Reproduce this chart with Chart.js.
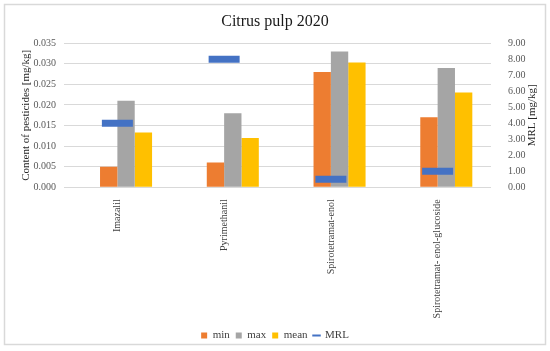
<!DOCTYPE html>
<html>
<head>
<meta charset="utf-8">
<script src="https://cdn.jsdelivr.net/npm/chart.js@4.4.1/dist/chart.umd.min.js"></script>
<style>
  body { margin: 0; background: #fff; }
  #wrap { width: 550px; height: 351px; }
</style>
</head>
<body>
<div id="wrap"><canvas id="chart" width="550" height="351"></canvas></div>
<script>
// data
const categories = ['Imazalil', 'Pyrimethanil', 'Spirotetramat-enol', 'Spirotetramat- enol-glucoside'];
const minValues  = [0.005, 0.006, 0.028, 0.017];
const maxValues  = [0.021, 0.018, 0.033, 0.029];
const meanValues = [0.0133, 0.012, 0.0303, 0.023];
const mrlValues  = [4.0, 8.0, 0.5, 1.0];
const emptySlot  = [null, null, null, null]; // excel leaves the first bar slot empty

const serif = "'Liberation Serif', 'DejaVu Serif', serif";

// frame around the whole chart + right axis title (reads bottom to top like the left one)
const framePlugin = {
  id: 'frame',
  beforeDraw(chart) {
    const ctx = chart.ctx;
    ctx.save();
    ctx.fillStyle = '#fff';
    ctx.fillRect(0, 0, chart.width, chart.height);
    ctx.strokeStyle = '#d9d9d9';
    ctx.lineWidth = 1.5;
    ctx.strokeRect(4.5, 4.5, 541, 340);
    ctx.restore();
  },
  afterDraw(chart) {
    const ctx = chart.ctx;
    const area = chart.chartArea;
    ctx.save();
    ctx.translate(532, (area.top + area.bottom) / 2);
    ctx.rotate(-Math.PI / 2);
    ctx.fillStyle = '#262626';
    ctx.font = '11px ' + serif;
    ctx.textAlign = 'center';
    ctx.textBaseline = 'middle';
    ctx.fillText('MRL [mg/kg]', 0, 0);
    ctx.restore();
  }
};

const ctx = document.getElementById('chart').getContext('2d');
const chart = new Chart(ctx, {
  type: 'bar',
  data: {
    labels: categories,
    datasets: [
      { label: '', data: emptySlot, backgroundColor: 'rgba(0,0,0,0)', order: 1 },
      { label: 'min', data: minValues, backgroundColor: '#ED7D31', pointStyle: 'rect', order: 1 },
      { label: 'max', data: maxValues, backgroundColor: '#A5A5A5', pointStyle: 'rect', order: 1 },
      { label: 'mean', data: meanValues, backgroundColor: '#FFC000', pointStyle: 'rect', order: 1 },
      {
        type: 'line', label: 'MRL', data: mrlValues, yAxisID: 'y1',
        showLine: false, pointStyle: 'line',
        pointRadius: 15.5, pointHoverRadius: 15.5,
        pointBorderWidth: 7, pointHoverBorderWidth: 7,
        borderColor: '#4472C4', backgroundColor: '#4472C4', order: 0
      }
    ]
  },
  options: {
    responsive: false,
    animation: false,
    events: [],
    layout: { padding: 0 },
    datasets: { bar: { categoryPercentage: 0.65, barPercentage: 1.0 } },
    plugins: {
      tooltip: { enabled: false },
      title: {
        display: true, text: 'Citrus pulp 2020', color: '#1a1a1a',
        font: { family: serif, size: 16, weight: 'normal' },
        padding: { top: 12, bottom: 12 }
      },
      legend: {
        position: 'bottom',
        labels: {
          usePointStyle: true, boxWidth: 6, boxHeight: 6,
          color: '#404040', padding: 6,
          font: { family: serif, size: 11 },
          filter: (item) => item.text !== '',
          sort: (a, b) => a.datasetIndex - b.datasetIndex,
          generateLabels(chart) {
            const items = Chart.defaults.plugins.legend.labels.generateLabels(chart);
            items.forEach(it => {
              if (it.text === 'MRL') { it.lineWidth = 2; it.strokeStyle = '#4472C4'; }
              else { it.lineWidth = 0; }
            });
            return items;
          }
        }
      }
    },
    scales: {
      x: {
        grid: { display: false },
        border: { display: false },
        ticks: {
          color: '#404040', minRotation: 90, maxRotation: 90, padding: 4,
          font: { family: serif, size: 10 }
        },
        afterFit(scale) { scale.height = 351 - 187.3 - scale.chart.legend.height; }
      },
      y: {
        position: 'left', min: 0, max: 0.035,
        grid: { color: '#d9d9d9', lineWidth: 1, drawTicks: false },
        border: { display: false },
        ticks: {
          stepSize: 0.005, padding: 8, color: '#595959',
          font: { family: serif, size: 10 },
          callback: (v) => v.toFixed(3)
        },
        title: {
          display: true, text: 'Content of pesticides [mg/kg]', color: '#262626',
          font: { family: serif, size: 11 }, padding: { top: 20, bottom: 0 }
        },
        afterFit(scale) { scale.width = 64; }
      },
      y1: {
        position: 'right', min: 0, max: 9,
        grid: { display: false, drawTicks: false },
        border: { display: false },
        ticks: {
          stepSize: 1, padding: 17, color: '#595959',
          font: { family: serif, size: 10 },
          callback: (v) => v.toFixed(2)
        },
        afterFit(scale) { scale.width = 59; }
      }
    }
  },
  plugins: [framePlugin]
});
</script>
</body>
</html>
